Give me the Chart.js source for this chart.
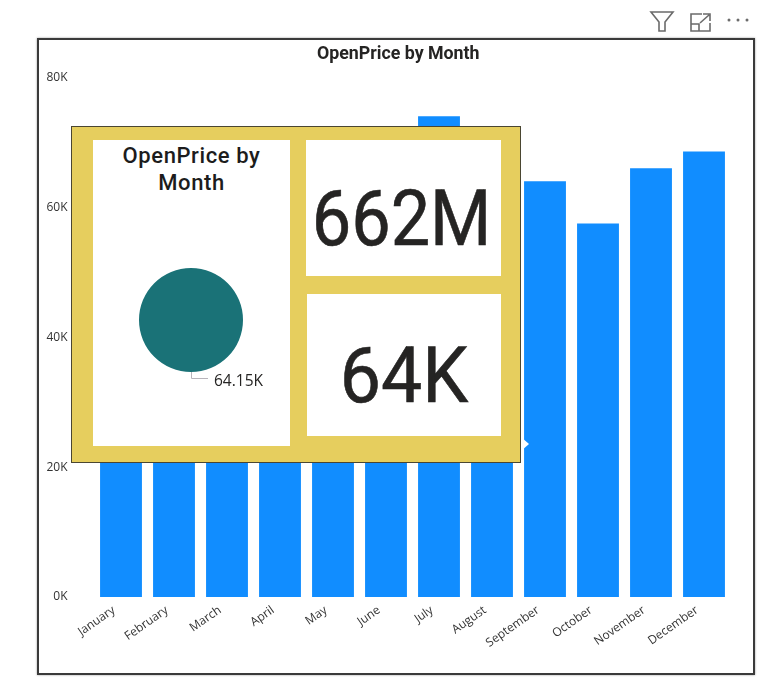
<!DOCTYPE html>
<html>
<head>
<meta charset="utf-8">
<title>OpenPrice by Month</title>
<script src="https://cdn.jsdelivr.net/npm/chart.js@4/dist/chart.umd.min.js"></script>
<style>
html, body { margin: 0; padding: 0; background: #fff; }
#page { position: relative; width: 780px; height: 700px; overflow: hidden; }
#page div, #page canvas, #page svg { position: absolute; }
#frame { left: 37px; top: 38px; width: 714px; height: 633px; border: 2px solid #3a3a3a; box-shadow: 0 0 2px #999; }
#myChart { left: 0; top: 0; }
#tip { left: 71px; top: 126px; width: 448px; height: 335px; background: #e6ce5e; border: 1px solid #4a4632; }
.panel { background: #fff; }
#panelPie { left: 93px; top: 140px; width: 197px; height: 306px; }
#panelTop { left: 306px; top: 140px; width: 195px; height: 136px; }
#panelBottom { left: 307px; top: 294px; width: 194px; height: 142px; }
#pieTitle { left: 93px; top: 142px; width: 197px; text-align: center; font: 500 22px/27px Roboto, sans-serif; letter-spacing: .6px; color: #1c1c1c; }
.big { text-align: center; font: 400 78px/80px Roboto, sans-serif; color: #252423; -webkit-text-stroke: .6px #252423; }
#bigTop { left: 302px; top: 179px; width: 195px; transform: scaleX(.9); }
#bigBottom { left: 307px; top: 336px; width: 194px; transform: scaleX(.94); }
#arrow { left: 521px; top: 437px; width: 0; height: 0; border-top: 7px solid transparent; border-bottom: 7px solid transparent; border-left: 8px solid #fff; }
</style>
</head>
<body>
<div id="page">
  <canvas id="myChart" width="780" height="700"></canvas>
  <div id="frame"></div>

  <svg style="left:648px;top:8px" width="106" height="26" fill="none" stroke="#6b6b6b" stroke-width="1.6">
    <path d="M3 4 H25 L17 14 V23 H11 V14 Z"/>
    <path d="M54 6 H43 V23 H62 V15"/>
    <path d="M43 16 H51 V23"/>
    <path d="M52 15 L61 7 M55 6 H62 V13"/>
    <g fill="#6b6b6b" stroke="none">
      <circle cx="81" cy="12" r="1.5"/><circle cx="90" cy="12" r="1.5"/><circle cx="99" cy="12" r="1.5"/>
    </g>
  </svg>

  <div id="tip"></div>
  <div id="arrow"></div>
  <div id="panelPie" class="panel"></div>
  <div id="panelTop" class="panel"></div>
  <div id="panelBottom" class="panel"></div>
  <div id="pieTitle">OpenPrice by<br>Month</div>
  <canvas id="pieChart" width="197" height="306" style="left:93px;top:140px"></canvas>
  <div id="bigTop" class="big">662M</div>
  <div id="bigBottom" class="big">64K</div>
</div>

<script>
var months = ["January","February","March","April","May","June","July","August","September","October","November","December"];
// bars january-june and august sit behind the tooltip, those are estimates
var openPrice = [46000,48000,50000,52000,54000,56000,74000,64000,64000,57500,66000,68600];
var yTicks = [0,20000,40000,60000,80000];
var pieLabels = ["OpenPrice"];
var pieValues = [64150];
var pieText = "64.15K";

var tickColor = "#333333";
var tickFont = { family: "'Open Sans'", size: 12 };

// the title in the reference is not centred on the layout box
var titleShift = {
  id: "titleShift",
  afterLayout: function(chart) {
    chart.titleBlock.left += 13;
    chart.titleBlock.right += 13;
  }
};

var ctx = document.getElementById("myChart");
var barGraph = new Chart(ctx, {
  type: "bar",
  data: {
    labels: months,
    datasets: [{ data: openPrice, backgroundColor: "#118dff", barPercentage: 0.79, categoryPercentage: 1 }]
  },
  options: {
    responsive: false,
    animation: false,
    devicePixelRatio: 1,
    layout: { padding: { left: 40, right: 49.5, top: 40, bottom: 0 } },
    plugins: {
      legend: { display: false },
      tooltip: { enabled: false },
      title: {
        display: true,
        text: "OpenPrice by Month",
        color: "#252423",
        font: { family: "Roboto", size: 17.8, weight: "bold" },
        padding: { top: 4, bottom: 12 }
      }
    },
    scales: {
      x: {
        grid: { display: false, drawTicks: false },
        border: { display: false },
        ticks: { color: tickColor, font: tickFont, minRotation: 35, maxRotation: 35, autoSkip: false, padding: 6, labelOffset: -7 },
        afterFit: function(scale) { scale.height = 103; }
      },
      y: {
        min: 0,
        max: 80000,
        grid: { display: false, drawTicks: false },
        border: { display: false },
        afterFit: function(scale) { scale.width = 54.5; },
        afterBuildTicks: function(scale) { scale.ticks = yTicks.map(function(v) { return { value: v }; }); },
        ticks: {
          color: tickColor,
          font: tickFont,
          padding: 27,
          callback: function(v) { return (v / 1000) + "K"; }
        }
      }
    }
  },
  plugins: [titleShift]
});

// leader line and value label of the single slice
var pieLabelPlugin = {
  id: "pieLabel",
  afterDraw: function(chart) {
    var arc = chart.getDatasetMeta(0).data[0];
    var c = chart.ctx;
    var y = arc.y + arc.outerRadius;
    c.save();
    c.strokeStyle = "#b8b4bb";
    c.lineWidth = 1;
    c.beginPath();
    c.moveTo(arc.x + 0.5, y);
    c.lineTo(arc.x + 0.5, y + 6.5);
    c.lineTo(arc.x + 17, y + 6.5);
    c.stroke();
    c.fillStyle = "#252423";
    c.font = "15.5px 'Open Sans'";
    c.textBaseline = "middle";
    c.fillText(pieText, arc.x + 23, y + 10);
    c.restore();
  }
};

var pieChart = new Chart(document.getElementById("pieChart"), {
  type: "pie",
  data: {
    labels: pieLabels,
    datasets: [{ data: pieValues, backgroundColor: "#1a7277", borderWidth: 0 }]
  },
  options: {
    responsive: false,
    animation: false,
    devicePixelRatio: 1,
    layout: { padding: { left: 46, right: 47, top: 128, bottom: 74 } },
    plugins: { legend: { display: false }, tooltip: { enabled: false } }
  },
  plugins: [pieLabelPlugin]
});
</script>
</body>
</html>
